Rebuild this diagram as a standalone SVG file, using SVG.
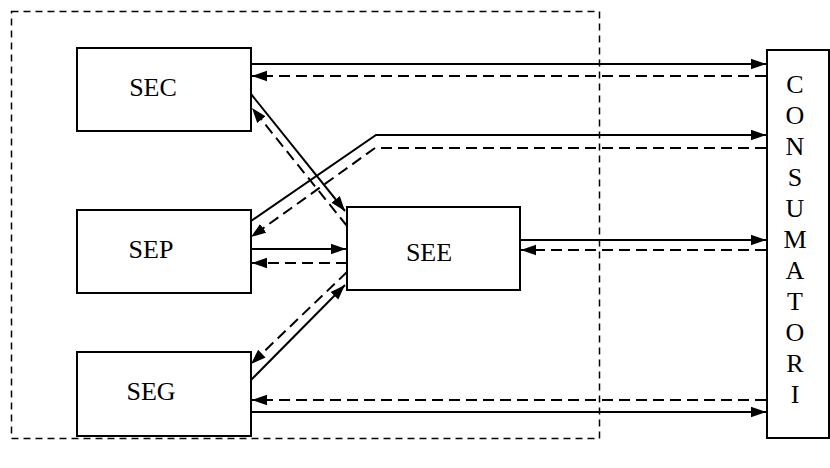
<svg xmlns="http://www.w3.org/2000/svg" width="830" height="468" viewBox="0 0 830 468">
<style>
.box{fill:#fff;stroke:#000;stroke-width:2}
.lbl{font-family:"Liberation Serif","Times New Roman",serif;font-size:26px;fill:#000;text-anchor:middle}
.s{fill:none;stroke:#000;stroke-width:2}
.d{fill:none;stroke:#000;stroke-width:2;stroke-dasharray:11,6}
.outer{fill:none;stroke:#000;stroke-width:1.5;stroke-dasharray:7,5}
</style>
<defs>
<marker id="ah" markerUnits="userSpaceOnUse" markerWidth="15" markerHeight="12" refX="14" refY="5" orient="auto" viewBox="0 0 14 10">
<path d="M0,0 L14,5 L0,10 z" fill="#000"/>
</marker>
</defs>
<rect class="outer" x="11.5" y="11.5" width="588" height="427"/>
<g id="SEC"><rect class="box" x="77" y="48" width="174" height="83"/><text class="lbl" x="153" y="96">SEC</text></g>
<g id="SEP"><rect class="box" x="77" y="210" width="174" height="83"/><text class="lbl" x="151" y="258">SEP</text></g>
<g id="SEG"><rect class="box" x="77" y="352" width="174" height="84"/><text class="lbl" x="151" y="400">SEG</text></g>
<g id="SEE"><rect class="box" x="347" y="207" width="173" height="83"/><text class="lbl" x="429" y="261">SEE</text></g>
<g id="CONSUMATORI"><rect class="box" x="767" y="50" width="62" height="388"/>
<text class="lbl" x="795">
<tspan x="795" y="93">C</tspan><tspan x="795" y="124">O</tspan><tspan x="795" y="155">N</tspan><tspan x="795" y="186">S</tspan><tspan x="795" y="217">U</tspan><tspan x="795" y="248">M</tspan><tspan x="795" y="279">A</tspan><tspan x="795" y="310">T</tspan><tspan x="795" y="341">O</tspan><tspan x="795" y="372">R</tspan><tspan x="795" y="403">I</tspan>
</text></g>
<g id="connectors">
<line class="s" x1="251" y1="64" x2="766" y2="64" marker-end="url(#ah)"/>
<line class="d" x1="766" y1="76" x2="252" y2="76" marker-end="url(#ah)"/>
<polyline class="s" points="251,221 376,135 766,135" marker-end="url(#ah)"/>
<polyline class="d" points="766,148 375,148 251,237" marker-end="url(#ah)"/>
<line class="s" x1="251" y1="94" x2="345" y2="211" marker-end="url(#ah)"/>
<line class="d" x1="347" y1="226" x2="252" y2="108" marker-end="url(#ah)"/>
<line class="s" x1="251" y1="249" x2="346" y2="249" marker-end="url(#ah)"/>
<line class="d" x1="347" y1="263" x2="252" y2="263" marker-end="url(#ah)"/>
<line class="s" x1="251" y1="380" x2="345" y2="285" marker-end="url(#ah)"/>
<line class="d" x1="347" y1="272" x2="251" y2="364" marker-end="url(#ah)"/>
<line class="s" x1="520" y1="240" x2="766" y2="240" marker-end="url(#ah)"/>
<line class="d" x1="766" y1="250" x2="521" y2="250" marker-end="url(#ah)"/>
<line class="d" x1="766" y1="400" x2="252" y2="400" marker-end="url(#ah)"/>
<line class="s" x1="251" y1="412" x2="766" y2="412" marker-end="url(#ah)"/>
</g>
</svg>
